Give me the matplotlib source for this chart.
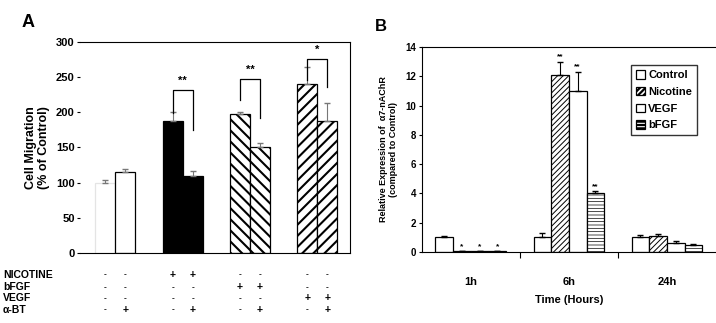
import numpy as np
import matplotlib
matplotlib.use("Agg")
import matplotlib.pyplot as plt

plt.rcParams['font.family'] = ['Liberation Sans', 'DejaVu Sans']
plt.rcParams['font.weight'] = 'bold'
plt.rcParams['hatch.linewidth'] = 1.6

# ---- panel A data
mig_vals = [100, 115, 187, 110, 198, 150, 240, 187]
mig_err = [3, 5, 13, 7, 2, 7, 25, 26]
row_names = ['NICOTINE', 'bFGF', 'VEGF', u'\u03b1-BT']
row_signs = [['-', '-', '+', '+', '-', '-', '-', '-'],
             ['-', '-', '-', '-', '+', '+', '-', '-'],
             ['-', '-', '-', '-', '-', '-', '+', '+'],
             ['-', '+', '-', '+', '-', '+', '-', '+']]
# significance: (group, top, left leg end, right leg end, stars)
sig = [(1, 232, 199, 175, '**'), (2, 247, 217, 192, '**'), (3, 276, 246, 236, '*')]

# ---- panel B data
times = ['1h', '6h', '24h']
treat = ['Control', 'Nicotine', 'VEGF', 'bFGF']
expr = np.array([[1.0, 1.0, 1.0],
                 [0.05, 12.1, 1.1],
                 [0.05, 11.0, 0.6],
                 [0.05, 4.0, 0.45]])
expr_err = np.array([[0.08, 0.3, 0.15],
                     [0.0, 0.9, 0.12],
                     [0.0, 1.3, 0.15],
                     [0.0, 0.15, 0.08]])
stars_b = [['', '*', '*', '*'], ['', '**', '**', '**'], ['', '', '', '']]

fig = plt.figure(figsize=(7.16, 3.23), dpi=100)


def hatch_lw(patches, lw):
    for p in patches:
        if hasattr(p, 'set_hatch_linewidth'):
            p.set_hatch_linewidth(lw)


#%% panel A
axA = fig.add_axes([0.112, 0.217, 0.377, 0.653])
centers = 1.75 + 3.37*np.arange(4)
xs = np.ravel([[c - 0.5, c + 0.5] for c in centers])
faces = ['white', 'white', 'black', 'black', 'white', 'white', 'white', 'white']
hatches = [None, None, None, None, '\\\\\\', '\\\\\\', '///', '///']
edges = ['#e4e4e4', 'black', 'black', 'black', 'black', 'black', 'black', 'black']
for i in range(8):
    b = axA.bar(xs[i], mig_vals[i], width=1.0, color=faces[i], edgecolor=edges[i],
                hatch=hatches[i], linewidth=0.9)
    hatch_lw(b.patches, 1.5)
    axA.errorbar(xs[i], mig_vals[i], yerr=[[0], [mig_err[i]]], fmt='none',
                 ecolor='#777777', elinewidth=0.8, capsize=2)
for g, top, l, r, s in sig:
    c = centers[g]
    axA.plot([c - 0.5, c - 0.5, c + 0.5, c + 0.5], [l, top, top, r], color='black', lw=0.9)
    axA.text(c, top + 6, s, ha='center', va='bottom', fontsize=8)
axA.set_xlim(0, 13.5)
axA.set_ylim(0, 300)
axA.set_yticks(range(0, 301, 50))
axA.set_xticks([])
axA.spines['left'].set_visible(False)
axA.tick_params(axis='y', length=2, labelsize=8, pad=2)
axA.set_ylabel('Cell Migration\n(% of Control)', fontsize=9, fontweight='bold', labelpad=4)
fig.text(0.03, 0.915, 'A', fontsize=13, fontweight='bold')

row_y = [0.149, 0.111, 0.077, 0.040]
for r in range(4):
    fig.text(0.004, row_y[r], row_names[r], fontsize=7.5, fontweight='bold', va='center')
    for i in range(8):
        yy = (row_y[r] - 0.217) / 0.653
        axA.text(xs[i], yy, row_signs[r][i], transform=axA.get_xaxis_transform(),
                 ha='center', va='center', fontsize=6 if row_signs[r][i] == '-' else 7.5)

#%% panel B
axB = fig.add_axes([0.589, 0.220, 0.411, 0.634])
offs = [-0.27, -0.09, 0.09, 0.27]
bhatch = [None, '//////', None, '-----']
bhatch_lw = [0.8, 0.7, 0.8, 0.5]
for k in range(4):
    xk = np.arange(3) + 0.5 + offs[k]
    b = axB.bar(xk, expr[k], width=0.18, color='white', edgecolor='black',
                hatch=bhatch[k], linewidth=0.9, label=treat[k])
    hatch_lw(b.patches, bhatch_lw[k])
    axB.errorbar(xk, expr[k], yerr=[np.zeros(3), expr_err[k]], fmt='none',
                 ecolor='black', elinewidth=0.8, capsize=2)
    for t in range(3):
        s = stars_b[t][k]
        if s:
            axB.text(xk[t], expr[k, t] + expr_err[k, t] + 0.1, s, ha='center',
                     va='bottom', fontsize=6)
axB.set_xlim(0, 3)
axB.set_ylim(0, 14)
axB.set_yticks(range(0, 15, 2))
axB.set_xticks([1, 2])
axB.set_xticklabels([])
axB.set_xticks([0.5, 1.5, 2.5], minor=True)
axB.set_xticklabels(times, minor=True, fontsize=8)
axB.tick_params(axis='x', which='minor', length=0, pad=18)
axB.tick_params(axis='x', which='major', length=4, direction='out')
axB.tick_params(axis='y', length=2, labelsize=7, pad=2)
axB.spines['right'].set_visible(False)
axB.set_xlabel('Time (Hours)', fontsize=8, fontweight='bold', labelpad=6)
axB.set_ylabel(u'Relative Expression of  \u03b17-nAChR\n(compared to Control)',
               fontsize=6.5, fontweight='bold', labelpad=5)
leg = axB.legend(loc='upper right', bbox_to_anchor=(0.955, 0.94), fontsize=8,
                 handlelength=0.8, handleheight=0.8, handletextpad=0.3,
                 borderpad=0.45, labelspacing=0.6, fancybox=False, edgecolor='black')
leg.get_frame().set_linewidth(1.0)
fig.text(0.523, 0.905, 'B', fontsize=12, fontweight='bold')

fig.savefig('out.png', dpi=100)
